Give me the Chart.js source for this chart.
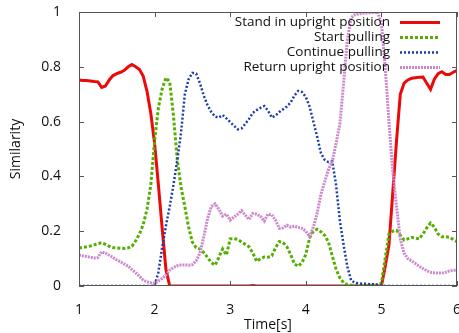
<!DOCTYPE html>
<html>
<head>
<meta charset="utf-8">
<script src="https://cdn.jsdelivr.net/npm/chart.js@4.4.1/dist/chart.umd.min.js"></script>
<style>
  html, body { margin: 0; padding: 0; background: #fff; }
</style>
</head>
<body>
<canvas id="myChart" width="459" height="333"></canvas>
<script>
const times = [
   1.00, 1.05, 1.10, 1.15, 1.20, 1.25, 1.30, 1.35, 1.40, 1.45,
   1.50, 1.55, 1.60, 1.65, 1.70, 1.75, 1.80, 1.85, 1.90, 1.95,
   2.00, 2.05, 2.10, 2.15, 2.20, 2.25, 2.30, 2.35, 2.40, 2.45,
   2.50, 2.55, 2.60, 2.65, 2.70, 2.75, 2.80, 2.85, 2.90, 2.95,
   3.00, 3.05, 3.10, 3.15, 3.20, 3.25, 3.30, 3.35, 3.40, 3.45,
   3.50, 3.55, 3.60, 3.65, 3.70, 3.75, 3.80, 3.85, 3.90, 3.95,
   4.00, 4.05, 4.10, 4.15, 4.20, 4.25, 4.30, 4.35, 4.40, 4.45,
   4.50, 4.55, 4.60, 4.65, 4.70, 4.75, 4.80, 4.85, 4.90, 4.95,
   5.00, 5.05, 5.10, 5.15, 5.20, 5.25, 5.30, 5.35, 5.40, 5.45,
   5.50, 5.55, 5.60, 5.65, 5.70, 5.75, 5.80, 5.85, 5.90, 5.95,
   6.00
];

const standUpright = [
   0.752, 0.750, 0.750, 0.748, 0.746, 0.745, 0.725, 0.730, 0.752, 0.768,
   0.775, 0.780, 0.787, 0.800, 0.808, 0.800, 0.790, 0.765, 0.710, 0.630,
   0.520, 0.370, 0.210, 0.060, 0.000, 0.000, 0.000, 0.000, 0.000, 0.000,
   0.000, 0.000, 0.000, 0.000, 0.000, 0.000, 0.000, 0.000, 0.000, 0.000,
   0.000, 0.000, 0.000, 0.000, 0.000, 0.000, 0.002, 0.000, 0.000, 0.000,
   0.000, 0.000, 0.000, 0.000, 0.000, 0.000, 0.000, 0.000, 0.000, 0.000,
   0.000, 0.000, 0.000, 0.000, 0.000, 0.000, 0.000, 0.000, 0.000, 0.000,
   0.000, 0.000, 0.000, 0.000, 0.000, 0.000, 0.000, 0.000, 0.000, 0.000,
   0.000, 0.070, 0.150, 0.340, 0.530, 0.700, 0.740, 0.752, 0.758, 0.760,
   0.762, 0.763, 0.740, 0.718, 0.755, 0.775, 0.782, 0.772, 0.772, 0.780,
   0.787
];

const startPulling = [
   0.139, 0.141, 0.143, 0.146, 0.150, 0.155, 0.158, 0.152, 0.145, 0.140,
   0.139, 0.138, 0.137, 0.139, 0.145, 0.165, 0.190, 0.225, 0.280, 0.370,
   0.530, 0.650, 0.720, 0.760, 0.745, 0.620, 0.460, 0.360, 0.290, 0.215,
   0.160, 0.140, 0.135, 0.122, 0.105, 0.085, 0.076, 0.105, 0.135, 0.113,
   0.172, 0.173, 0.170, 0.160, 0.152, 0.143, 0.120, 0.090, 0.100, 0.106,
   0.105, 0.110, 0.140, 0.162, 0.158, 0.143, 0.115, 0.080, 0.072, 0.086,
   0.115, 0.175, 0.200, 0.207, 0.198, 0.185, 0.160, 0.110, 0.062, 0.030,
   0.012, 0.005, 0.003, 0.003, 0.004, 0.003, 0.002, 0.003, 0.003, 0.004,
   0.010, 0.100, 0.190, 0.200, 0.203, 0.185, 0.168, 0.172, 0.177, 0.175,
   0.172, 0.190, 0.212, 0.230, 0.215, 0.190, 0.180, 0.180, 0.178, 0.170,
   0.162
];

const continuePulling = [
   0.000, 0.000, 0.000, 0.000, 0.000, 0.000, 0.000, 0.000, 0.000, 0.000,
   0.000, 0.000, 0.000, 0.000, 0.000, 0.000, 0.000, 0.000, 0.000, 0.000,
   0.002, 0.050, 0.140, 0.220, 0.290, 0.370, 0.460, 0.560, 0.700, 0.755,
   0.778, 0.775, 0.740, 0.695, 0.660, 0.635, 0.618, 0.615, 0.624, 0.612,
   0.598, 0.585, 0.572, 0.575, 0.592, 0.610, 0.632, 0.642, 0.650, 0.657,
   0.640, 0.615, 0.622, 0.635, 0.645, 0.655, 0.670, 0.695, 0.712, 0.708,
   0.690, 0.655, 0.600, 0.545, 0.485, 0.460, 0.452, 0.455, 0.370, 0.240,
   0.150, 0.070, 0.020, 0.012, 0.010, 0.008, 0.008, 0.006, 0.006, 0.005,
   0.002, 0.000, 0.000, 0.000, 0.000, 0.000, 0.000, 0.000, 0.000, 0.000,
   0.000, 0.000, 0.000, 0.000, 0.000, 0.000, 0.000, 0.000, 0.000, 0.000,
   0.000
];

const returnUpright = [
   0.113, 0.110, 0.108, 0.105, 0.102, 0.104, 0.125, 0.120, 0.112, 0.104,
   0.095, 0.088, 0.080, 0.072, 0.060, 0.048, 0.035, 0.022, 0.015, 0.012,
   0.010, 0.018, 0.028, 0.040, 0.058, 0.068, 0.074, 0.077, 0.077, 0.076,
   0.078, 0.092, 0.120, 0.180, 0.245, 0.290, 0.300, 0.280, 0.255, 0.262,
   0.240, 0.252, 0.262, 0.275, 0.258, 0.243, 0.265, 0.262, 0.255, 0.237,
   0.262, 0.260, 0.240, 0.210, 0.212, 0.222, 0.215, 0.218, 0.214, 0.210,
   0.200, 0.180, 0.215, 0.265, 0.335, 0.380, 0.425, 0.455, 0.520, 0.590,
   0.740, 0.900, 0.980, 0.990, 0.993, 0.995, 0.996, 0.997, 0.998, 1.000,
   0.960, 0.800, 0.600, 0.420, 0.290, 0.170, 0.120, 0.100, 0.092, 0.082,
   0.072, 0.064, 0.056, 0.050, 0.048, 0.047, 0.047, 0.050, 0.055, 0.057,
   0.058
];

const seriesNames = [
   'Stand in upright position',
   'Start pulling',
   'Continue pulling',
   'Return upright position'
];

const FONT = '"Open Sans", "DejaVu Sans", sans-serif';

function toPoints(values) {
   return values.map((v, i) => ({ x: times[i], y: v }));
}

// gnuplot-like frame: border on all sides, ticks pointing inward, legend top right
const framePlugin = {
   id: 'frame',
   afterDatasetsDraw(chart) {
      const { ctx, chartArea: a, scales } = chart;
      ctx.save();
      ctx.strokeStyle = '#555';
      ctx.lineWidth = 1;
      ctx.strokeRect(a.left + 0.5, a.top + 0.5, a.right - a.left - 1, a.bottom - a.top - 1);
      const len = 5;
      ctx.beginPath();
      scales.x.ticks.forEach(t => {
         const px = Math.round(scales.x.getPixelForValue(t.value)) + 0.5;
         ctx.moveTo(px, a.bottom); ctx.lineTo(px, a.bottom - len);
         ctx.moveTo(px, a.top); ctx.lineTo(px, a.top + len);
      });
      scales.y.ticks.forEach(t => {
         const py = Math.round(scales.y.getPixelForValue(t.value)) + 0.5;
         ctx.moveTo(a.left, py); ctx.lineTo(a.left + len, py);
         ctx.moveTo(a.right, py); ctx.lineTo(a.right - len, py);
      });
      ctx.stroke();

      // key
      ctx.font = '13.5px ' + FONT;
      ctx.textAlign = 'right';
      ctx.textBaseline = 'middle';
      const textX = 390, lineX0 = 400, lineX1 = 440;
      chart.data.datasets.forEach((ds, i) => {
         const y = 22 + i * 15;
         ctx.fillStyle = '#111';
         ctx.fillText(ds.label, textX, y);
         ctx.strokeStyle = ds.borderColor;
         ctx.lineWidth = ds.borderWidth;
         ctx.setLineDash(ds.borderDash || []);
         ctx.beginPath();
         ctx.moveTo(lineX0, y + 0.5);
         ctx.lineTo(lineX1, y + 0.5);
         ctx.stroke();
      });
      ctx.restore();
   }
};

function noPad(scale) {
   scale.paddingTop = 0;
   scale.paddingBottom = 0;
   scale.paddingLeft = 0;
   scale.paddingRight = 0;
}

var ctx = document.getElementById('myChart');
var myChart = new Chart(ctx, {
   type: 'line',
   data: {
      datasets: [
         {
            label: seriesNames[0],
            data: toPoints(standUpright),
            borderColor: 'rgb(235, 10, 10)',
            borderWidth: 3,
            order: 4,
         },
         {
            label: seriesNames[1],
            data: toPoints(startPulling),
            borderColor: 'rgb(85, 175, 0)',
            borderWidth: 3,
            borderDash: [3, 2],
            order: 3,
         },
         {
            label: seriesNames[2],
            data: toPoints(continuePulling),
            borderColor: 'rgb(30, 60, 170)',
            borderWidth: 2.5,
            borderDash: [2, 2],
            order: 2,
         },
         {
            label: seriesNames[3],
            data: toPoints(returnUpright),
            borderColor: 'rgb(205, 135, 205)',
            borderWidth: 3,
            borderDash: [2, 1],
            order: 1,
         },
      ],
   },
   options: {
      responsive: false,
      animation: false,
      elements: {
         point: { radius: 0 },
         line: { tension: 0, borderCapStyle: 'butt' }
      },
      layout: {
         padding: { top: 12, right: 2, left: 0, bottom: 0 }
      },
      scales: {
         x: {
            type: 'linear',
            min: 1,
            max: 6,
            grid: { display: false },
            border: { display: false },
            ticks: {
               stepSize: 1,
               padding: 8,
               color: '#111',
               font: { family: FONT, size: 14 }
            },
            title: {
               display: true,
               text: 'Time[s]',
               color: '#111',
               font: { family: FONT, size: 14 },
               padding: { top: 2, bottom: 0 }
            },
            afterFit(scale) { scale.height = 47; noPad(scale); }
         },
         y: {
            min: 0,
            max: 1,
            grid: { display: false },
            border: { display: false },
            ticks: {
               stepSize: 0.2,
               padding: 10,
               color: '#111',
               font: { family: FONT, size: 14 },
               callback: v => String(Math.round(v * 10) / 10)
            },
            title: {
               display: true,
               text: 'Similarity',
               color: '#111',
               font: { family: FONT, size: 14 },
               padding: { top: 8, bottom: 0 }
            },
            afterFit(scale) { scale.width = 79; noPad(scale); }
         }
      },
      plugins: {
         legend: { display: false },
         tooltip: { enabled: false }
      }
   },
   plugins: [framePlugin],
});
</script>
</body>
</html>
